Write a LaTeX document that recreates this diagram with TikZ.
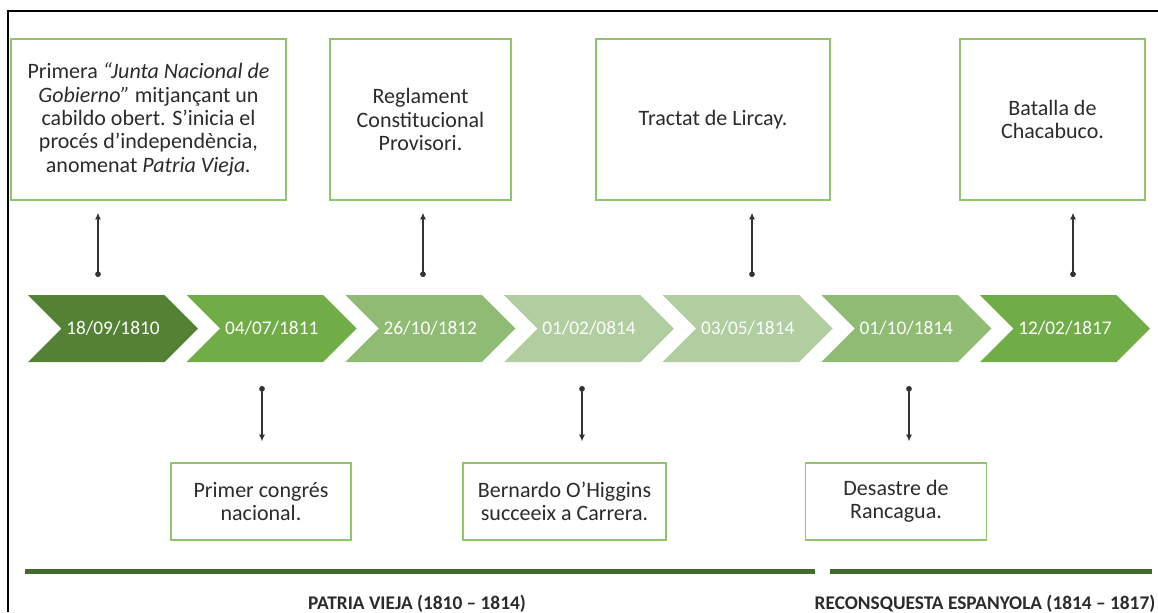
\documentclass[tikz,border=0pt]{standalone}
\usepackage{fontspec}
\setmainfont{Carlito}
\usetikzlibrary{arrows.meta, positioning}
\definecolor{chevA}{HTML}{548235}
\definecolor{chevB}{HTML}{70AD47}
\definecolor{chevC}{HTML}{8FBC72}
\definecolor{chevD}{HTML}{B0CEA0}
\definecolor{boxgreen}{HTML}{90C46C}
\definecolor{eragreen}{HTML}{44692C}
\definecolor{textgray}{HTML}{2B2B2B}
\definecolor{linegray}{HTML}{333333}
\tikzstyle{event} = [draw=boxgreen, line width=1pt, rectangle, inner sep=0pt, align=center, text=textgray, font=\fontsize{16.5}{17.5}\selectfont]
\tikzstyle{date} = [text=white, font=\fontsize{14.5}{17}\selectfont]
\tikzstyle{link} = [draw=linegray, line width=0.9pt, {Circle[length=4.2pt]}-{Latex[length=5pt,width=4.5pt]}]
\tikzstyle{era} = [draw=eragreen, line width=3.75pt]
\tikzstyle{period} = [anchor=base, text=textgray, font=\bfseries\fontsize{14.5}{17}\selectfont]
% chevron: name, centre x, colour, date
\newcommand{\chev}[4]{
  \fill[#3] (#2-85,295) -- ++(136.5,0) -- ++(33.5,33.5) -- ++(-33.5,33.5) -- ++(-136.5,0) -- ++(33.5,-33.5) -- cycle;
  \node[date] (#1) at (#2,328.5) {#4};
}

\begin{document}
\begin{tikzpicture}[x=0.75pt,y=-0.75pt]
  \useasboundingbox (0,0) rectangle (1158,612);
  \draw[line width=1.5pt] (1158,11) -- (8,11) -- (8,612);

  % timeline
  \chev{d1}{113}{chevA}{18/09/1810}
  \chev{d2}{271.7}{chevB}{04/07/1811}
  \chev{d3}{430.3}{chevC}{26/10/1812}
  \chev{d4}{589}{chevD}{01/02/0814}
  \chev{d5}{747.7}{chevD}{03/05/1814}
  \chev{d6}{906.3}{chevC}{01/10/1814}
  \chev{d7}{1065}{chevB}{12/02/1817}

  % events above
  \node[event, minimum width=206.25pt, minimum height=120.75pt] (e1) at (148.5,119.5)
    {Primera \emph{“Junta Nacional de}\\ \emph{Gobierno”} mitjançant un\\ cabildo obert. S’inicia el\\ procés d’independència,\\ anomenat \emph{Patria Vieja.}};
  \node[event, minimum width=135.75pt, minimum height=120.75pt] (e3) at (420.5,119.5)
    {Reglament\\ Constitucional\\ Provisori.};
  \node[event, minimum width=175.5pt, minimum height=120.75pt] (e5) at (713,119.5)
    {Tractat de Lircay.};
  \node[event, minimum width=138.75pt, minimum height=120.75pt] (e7) at (1052.5,119.5)
    {Batalla de\\ Chacabuco.};

  % events below
  \node[event, minimum width=135pt, minimum height=57.75pt] (e2) at (261,501.5)
    {Primer congrés\\ nacional.};
  \node[event, minimum width=152.25pt, minimum height=57.75pt] (e4) at (564.5,501.5)
    {Bernardo O’Higgins\\ succeeix a Carrera.};
  \node[event, minimum width=135.75pt, minimum height=57.75pt] (e6) at (896,501.5)
    {Desastre de\\ Rancagua.};

  % links
  \coordinate (p1) at (98,277);
  \coordinate (p3) at (423,277);
  \coordinate (p5) at (752,277);
  \coordinate (p7) at (1073,277);
  \coordinate (p2) at (262,386);
  \coordinate (p4) at (582,386);
  \coordinate (p6) at (909,386);
  \draw[link, shorten >=9pt] (p1) -- (p1 |- e1.south);
  \draw[link, shorten >=9pt] (p3) -- (p3 |- e3.south);
  \draw[link, shorten >=9pt] (p5) -- (p5 |- e5.south);
  \draw[link, shorten >=9pt] (p7) -- (p7 |- e7.south);
  \draw[link, shorten >=15.75pt] (p2) -- (p2 |- e2.north);
  \draw[link, shorten >=15.75pt] (p4) -- (p4 |- e4.north);
  \draw[link, shorten >=15.75pt] (p6) -- (p6 |- e6.north);

  % periods
  \draw[era] (25,571) -- (815,571);
  \draw[era] (830,571) -- (1152,571);
  \node[period] (pv) at (417,609) {PATRIA VIEJA (1810 – 1814)};
  \node[period] (re) at (985,609) {RECONSQUESTA ESPANYOLA (1814 – 1817)};
\end{tikzpicture}
\end{document}
